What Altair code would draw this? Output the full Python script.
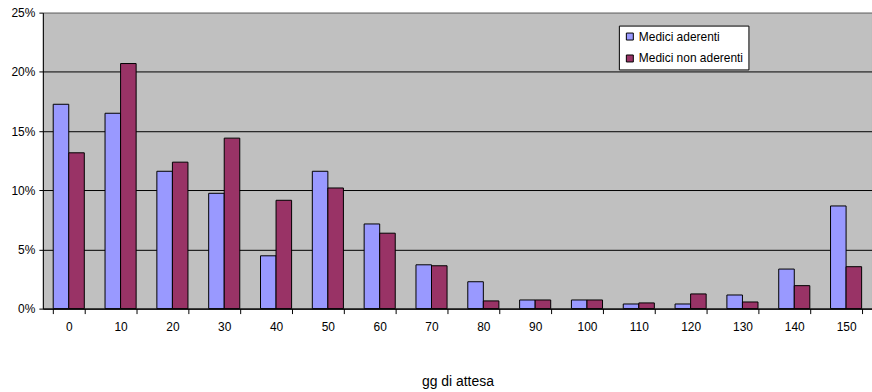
import altair as alt
import pandas as pd

# Waiting-time classes (days) and share of patients per class
giorni = ["0", "10", "20", "30", "40", "50", "60", "70",
          "80", "90", "100", "110", "120", "130", "140", "150"]
aderenti = [0.1726, 0.1650, 0.1160, 0.0974, 0.0446, 0.1160, 0.0715, 0.0370,
            0.0227, 0.0073, 0.0073, 0.0039, 0.0039, 0.0115, 0.0334, 0.0867]
non_aderenti = [0.1316, 0.2070, 0.1237, 0.1440, 0.0915, 0.1019, 0.0637, 0.0362,
                0.0065, 0.0073, 0.0073, 0.0048, 0.0124, 0.0056, 0.0194, 0.0354]
serie = ["Medici aderenti", "Medici non aderenti"]
colori = ["#9999FF", "#993366"]

rows = []
for g, a, n in zip(giorni, aderenti, non_aderenti):
    rows.append({"gg": g, "serie": serie[0], "quota": a})
    rows.append({"gg": g, "serie": serie[1], "quota": n})
df = pd.DataFrame(rows)

FONT = "Liberation Sans"

bars = alt.Chart(df).mark_bar(stroke="black", strokeWidth=1).encode(
    x=alt.X(
        "gg:N",
        sort=giorni,
        title="gg di attesa",
        scale=alt.Scale(paddingInner=0.4, paddingOuter=0.2),
        axis=alt.Axis(
            labelAngle=0,
            tickBand="extent",
            tickSize=5,
            tickColor="black",
            domainColor="black",
            labelPadding=8,
            labelFont=FONT,
            labelFontSize=12,
            labelColor="black",
            titleFont=FONT,
            titleFontSize=14,
            titleFontWeight="normal",
            titleColor="black",
            titlePadding=42,
            grid=False,
        ),
    ),
    xOffset=alt.XOffset("serie:N", sort=serie),
    y=alt.Y(
        "quota:Q",
        title=None,
        scale=alt.Scale(domain=[0, 0.25], nice=False),
        axis=alt.Axis(
            format=".0%",
            values=[0, 0.05, 0.10, 0.15, 0.20, 0.25],
            tickSize=4,
            tickColor="black",
            domainColor="black",
            labelPadding=4,
            labelFont=FONT,
            labelFontSize=12,
            labelColor="black",
            grid=True,
            gridColor={"condition": {"test": "datum.value >= 0.25", "value": "#808080"},
                       "value": "black"},
            gridOpacity=1,
            gridWidth=1,
        ),
    ),
    color=alt.Color(
        "serie:N",
        sort=serie,
        scale=alt.Scale(domain=serie, range=colori),
        legend=alt.Legend(
            title=None,
            orient="none",
            legendX=578,
            legendY=13,
            fillColor="white",
            strokeColor="black",
            padding=5,
            symbolType="square",
            symbolSize=49,
            symbolStrokeColor="black",
            symbolStrokeWidth=1,
            symbolOpacity=1,
            labelFont=FONT,
            labelFontSize=12,
            labelColor="black",
            labelOffset=3,
            rowPadding=10,
        ),
    ),
)

chart = bars.properties(
    width=832,
    height=297,
    padding={"left": 43, "top": 12, "right": 0, "bottom": 83},
    autosize=alt.AutoSizeParams(type="none"),
    background="white",
).configure_view(
    fill="#C0C0C0",
    stroke="#808080",
    strokeWidth=1,
)

chart.save("out.html", embed_options={"renderer": "svg", "actions": False})
